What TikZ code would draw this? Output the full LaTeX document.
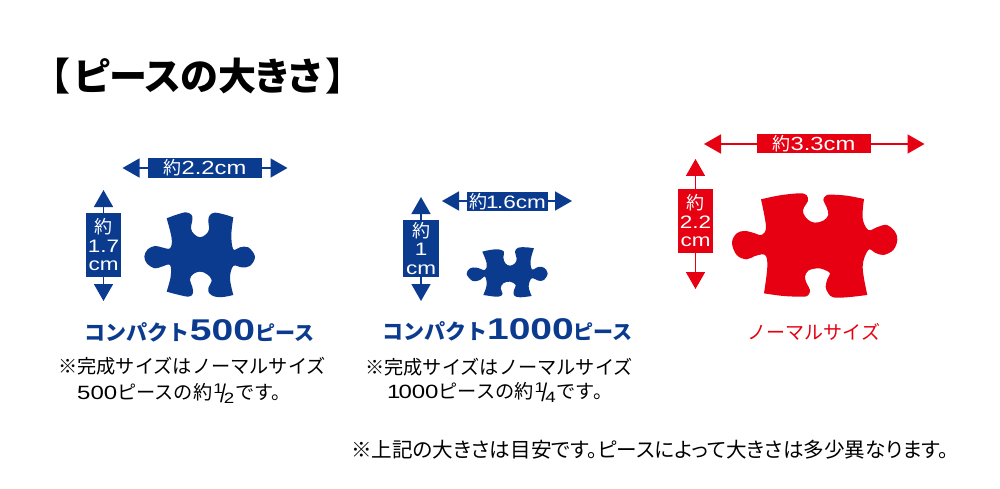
\documentclass[tikz,border=0pt]{standalone}
\usepackage{fontspec}
\usepackage{graphicx}
\usetikzlibrary{arrows.meta}
\setmainfont{Noto Sans CJK JP}
\newfontfamily\jp{Noto Sans CJK JP}
\newfontfamily\jpp{Noto Sans CJK JP}[RawFeature=+palt]
\newfontfamily\wide{Liberation Sans}[FakeStretch=1.25]
\newfontfamily\wideb{Liberation Sans}[FakeStretch=1.3]
\newcommand{\sz}[1]{\fontsize{#1}{#1}\selectfont}
\definecolor{nblue}{HTML}{0B3B8F}
\definecolor{nred}{HTML}{E60012}
\newcommand{\frc}[2]{\kern1pt\raisebox{6pt}{\wide\sz{14}#1}\kern-3pt\raisebox{-3pt}{\scalebox{1}[1.5]{\wide\sz{17}/}}\kern-2pt\raisebox{-4pt}{\wide\sz{15}#2}\kern1pt}
\tikzset{
  x=1pt,y=-1pt,
  dimbox/.style={fill=#1,text=white,inner sep=0pt,align=center,font=\jp\sz{18},execute at begin node={\baselineskip=18.5pt}},
  dimline/.style={draw=#1,line width=1.7pt,{Triangle[width=19pt,length=17pt]}-{Triangle[width=19pt,length=17pt]}},
  pieceshape/.style={fill=#1,draw=none},
  headline/.style={text=nblue,font=\jp\bfseries\sz{21},inner sep=0pt},
  noteline/.style={text=black,font=\jp\sz{19.2},inner sep=0pt,anchor=west},
}
\begin{document}
\begin{tikzpicture}
\useasboundingbox[fill=white] (0,0) rectangle (1000,489);
\node[font=\jpp\bfseries\sz{38},inner sep=0pt,anchor=center] (title) at (198,76) {【\kern4pt ピースの大きさ\kern4pt 】};

% --- 500
\coordinate (al) at (122.5,168); \coordinate (ar) at (287.5,168);
\coordinate (bt) at (103.5,190); \coordinate (bb) at (103.5,301);
\draw[dimline=nblue] (al) -- (ar);
\draw[dimline=nblue] (bt) -- (bb);
\node[dimbox=nblue,minimum width=114pt,minimum height=20pt] (a1) at (205,168) {約{\wide\sz{19}2.2cm}};
\node[dimbox=nblue,minimum width=35pt,minimum height=64pt] (a2) at (103.5,245) {約\\{\wide 1.7}\\{\wide cm}};
\begin{scope}[shift={(60,140)},x=0.3333pt,y=-0.3333pt]
\fill[pieceshape=nblue] plot[smooth,tension=.6] coordinates {(320,235)(350,224)(378,217)(395,225)(397,240)(393,265)(402,282)(420,292)(438,283)(447,268)(445,240)(450,225)(465,218)(495,224)(520,232)}
 -- plot[smooth,tension=.6] coordinates {(520,232)(514,285)(520,328)(540,322)(565,322)(585,350)(570,378)(545,382)(520,378)(510,415)(520,465)}
 -- plot[smooth,tension=.6] coordinates {(520,465)(490,471)(465,470)(448,460)(445,445)(455,420)(440,402)(420,395)(400,402)(390,418)(398,445)(398,462)(385,470)(350,463)(320,455)}
 -- plot[smooth,tension=.6] coordinates {(320,455)(332,410)(330,375)(305,380)(285,385)(262,372)(253,350)(263,328)(285,318)(305,322)(330,325)(335,295)(320,235)} -- cycle;
\end{scope}
\node[headline] (a3) at (199.5,331) {コンパクト{\wideb\bfseries\sz{30}500}{\sz{20}ピース}};
\node[noteline] (a4) at (58,366) {※完成サイズはノーマルサイズ};
\node[noteline] (a5) at (77,393) {{\wide 500}ピースの約\frc{1}{2}です。};

% --- 1000
\coordinate (cl) at (442,201); \coordinate (cr) at (572,201);
\coordinate (dt) at (421,197); \coordinate (db) at (421,301);
\draw[dimline=nblue] (cl) -- (cr);
\draw[dimline=nblue] (dt) -- (db);
\node[dimbox=nblue,minimum width=81pt,minimum height=19pt] (c1) at (507.5,201.5) {約{\wide\sz{18}\kern-1pt 1\kern-1.5pt .6cm}};
\node[dimbox=nblue,minimum width=36pt,minimum height=57pt] (c2) at (421,248.5) {約\\{\wide 1}\\{\wide cm}};
\begin{scope}[shift={(350,170)},x=0.3333pt,y=-0.3333pt]
\fill[pieceshape=nblue] plot[smooth,tension=.6] coordinates {(397,245)(420,240)(445,238)(462,245)(460,262)(466,280)(480,287)(495,280)(500,265)(495,245)(505,233)(530,232)(552,235)}
 -- plot[smooth,tension=.6] coordinates {(552,235)(542,270)(546,298)(565,291)(582,293)(593,310)(582,330)(565,332)(545,325)(536,350)(545,378)}
 -- plot[smooth,tension=.6] coordinates {(545,378)(510,382)(492,376)(492,360)(497,345)(480,335)(460,340)(452,355)(458,372)(445,380)(420,378)(400,375)}
 -- plot[smooth,tension=.6] coordinates {(400,375)(410,345)(405,320)(390,330)(368,333)(350,312)(360,295)(380,293)(405,300)(410,280)(397,245)} -- cycle;
\end{scope}
\node[headline] (c3) at (507.5,330) {コンパクト{\wideb\bfseries\sz{30}1000}{\sz{20}ピース}};
\node[noteline] (c4) at (365,367) {※完成サイズはノーマルサイズ};
\node[noteline] (c5) at (387,392) {{\wide 1\kern-2pt 000}ピースの約\frc{1}{4}です。};

% --- normal
\coordinate (el) at (704,144); \coordinate (er) at (924.5,144);
\coordinate (ft) at (695.5,159); \coordinate (fb) at (695.5,289);
\draw[dimline=nred] (el) -- (er);
\draw[dimline=nred] (ft) -- (fb);
\node[dimbox=nred,minimum width=114pt,minimum height=19.5pt] (e1) at (814,143.5) {約{\wide\sz{19}3.3cm}};
\node[dimbox=nred,minimum width=35.5pt,minimum height=64pt] (e2) at (695.5,221) {約\\{\wide 2.2}\\{\wide cm}};
\begin{scope}[shift={(660,120)},x=0.3333pt,y=-0.3333pt]
\fill[pieceshape=nred] plot[smooth,tension=.6] coordinates {(303,238)(360,226)(420,220)(440,226)(444,243)(432,262)(430,280)(445,300)(465,308)(490,302)(505,285)(500,262)(490,240)(497,228)(510,224)(560,227)(612,237)}
 -- plot[smooth,tension=.6] coordinates {(612,237)(608,295)(625,330)(650,322)(680,315)(705,335)(712,360)(700,390)(670,405)(645,398)(625,390)(608,440)(622,525)}
 -- plot[smooth,tension=.6] coordinates {(622,525)(560,532)(520,532)(505,520)(497,500)(503,475)(510,460)(490,448)(470,445)(445,452)(435,470)(440,490)(450,510)(445,525)(430,530)(370,528)(312,520)}
 -- plot[smooth,tension=.6] coordinates {(312,520)(322,440)(315,405)(285,408)(260,418)(230,405)(216,368)(230,340)(255,333)(285,340)(305,345)(318,320)(303,238)} -- cycle;
\end{scope}
\node[inner sep=0pt,text=nred,font=\jp\sz{19}] (e3) at (814,332) {ノーマルサイズ};

\node[inner sep=0pt,font=\jpp\sz{20.6}] (note) at (650,450) {※上記の大きさは目安です。ピースによって大きさは多少異なります。};
\end{tikzpicture}
\end{document}
